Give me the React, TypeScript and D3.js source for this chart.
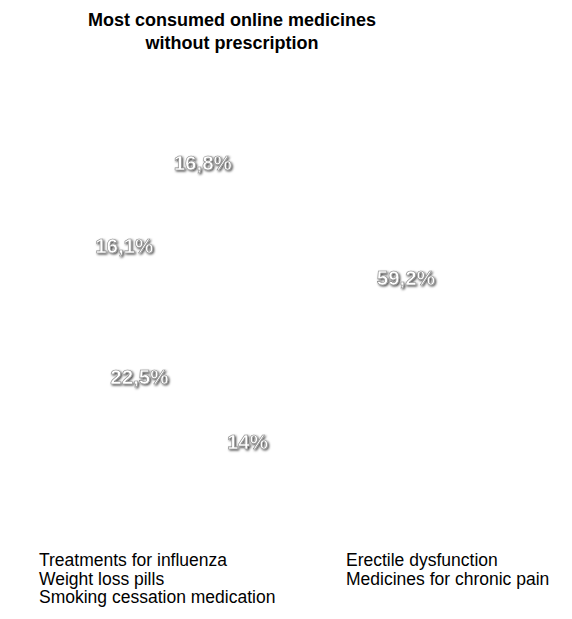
import React from "react";
import * as d3 from "d3";

const categories = [
  "Erectile dysfunction",
  "Medicines for chronic pain",
  "Smoking cessation medication",
  "Weight loss pills",
  "Treatments for influenza",
];
const values = [59.2, 14, 22.5, 16.1, 16.8];
const valueLabels = ["59,2%", "14%", "22,5%", "16,1%", "16,8%"];
const legendColumn1 = ["Treatments for influenza", "Weight loss pills", "Smoking cessation medication"];
const legendColumn2 = ["Erectile dysfunction", "Medicines for chronic pain"];
const titleLines = ["Most consumed online medicines", "without prescription"];

const W = 572;
const H = 619;
const cx = 261;
const cy = 296;
const labelR = 146;
const outerR = 200;

export default function App() {
  const pie = d3.pie<number>().sort(null).value((d) => d);
  const arcs = pie(values);
  const sliceArc = d3.arc<d3.PieArcDatum<number>>().innerRadius(0).outerRadius(outerR);
  const labelArc = d3.arc<d3.PieArcDatum<number>>().innerRadius(labelR).outerRadius(labelR);

  return (
    <svg
      width={W}
      height={H}
      style={{ position: "absolute", left: 0, top: 0, display: "block", background: "#fff" }}
      fontFamily="'Liberation Sans', Arial, sans-serif"
    >
      <defs>
        <filter id="lblShadow" x="-20%" y="-30%" width="140%" height="160%">
          <feDropShadow dx="1.2" dy="1.2" stdDeviation="0.9" floodColor="#000" floodOpacity="0.75" />
        </filter>
      </defs>
      <rect width={W} height={H} fill="#fff" />
      {titleLines.map((t, i) => (
        <text key={t} x={232} y={26 + i * 23} textAnchor="middle" fontWeight="bold" fontSize={18} fill="#000">
          {t}
        </text>
      ))}
      <g transform={`translate(${cx},${cy})`}>
        {arcs.map((a, i) => (
          <path key={categories[i]} d={sliceArc(a) || ""} fill="none" stroke="none" />
        ))}
        {arcs.map((a, i) => {
          const [x, y] = labelArc.centroid(a);
          return (
            <text
              key={"l" + i}
              x={x}
              y={y}
              textAnchor="middle"
              dominantBaseline="central"
              fontWeight="bold"
              fontSize={20.5}
              fill="#fff"
              stroke="#8a8a8a"
              strokeWidth={0.6}
              filter="url(#lblShadow)"
            >
              {valueLabels[i]}
            </text>
          );
        })}
      </g>
      {legendColumn1.map((t, i) => (
        <text key={t} x={39} y={566 + i * 18.5} fontSize={17.5} fill="#000">
          {t}
        </text>
      ))}
      {legendColumn2.map((t, i) => (
        <text key={t} x={346} y={566 + i * 18.5} fontSize={17.5} fill="#000">
          {t}
        </text>
      ))}
    </svg>
  );
}
